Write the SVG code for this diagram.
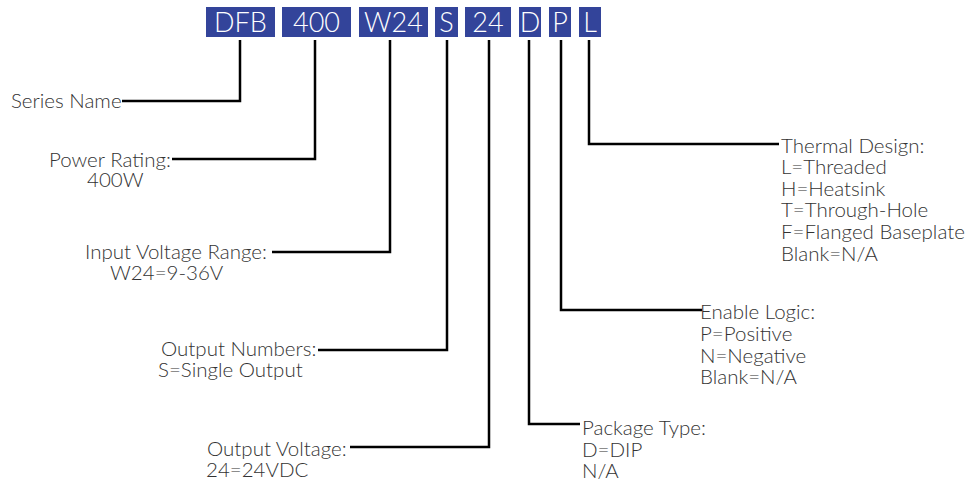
<svg xmlns="http://www.w3.org/2000/svg" width="971" height="481" viewBox="0 0 971 481">
<style>
.box{fill:#33449a}
.bt{fill:#ffffff;font-family:Lato,"Liberation Sans",sans-serif;font-weight:300;font-size:27px;text-anchor:middle}
.lb{fill:#333333;font-family:Lato,"Liberation Sans",sans-serif;font-weight:300;font-size:20.5px}
.ln{fill:none;stroke:#000000;stroke-width:2.5}
</style>
<rect width="971" height="481" fill="#ffffff"/>
<g id="code">
<g id="n-dfb"><rect class="box" x="206" y="7" width="69" height="30"/><text class="bt" x="240.5" y="32">DFB</text></g>
<g id="n-400"><rect class="box" x="282" y="7" width="69" height="30"/><text class="bt" x="316.5" y="32">400</text></g>
<g id="n-w24"><rect class="box" x="359" y="7" width="69" height="30"/><text class="bt" x="393.5" y="32">W24</text></g>
<g id="n-s"><rect class="box" x="435" y="7" width="23" height="30"/><text class="bt" x="446.5" y="32">S</text></g>
<g id="n-24"><rect class="box" x="465" y="7" width="46" height="30"/><text class="bt" x="488" y="32">24</text></g>
<g id="n-d"><rect class="box" x="519" y="7" width="22" height="30"/><text class="bt" x="530" y="32">D</text></g>
<g id="n-p"><rect class="box" x="549" y="7" width="22" height="30"/><text class="bt" x="560" y="32">P</text></g>
<g id="n-l"><rect class="box" x="579" y="7" width="22" height="30"/><text class="bt" x="590" y="32">L</text></g>
</g>
<g id="connectors">
<polyline class="ln" points="240,40 240,101 122,101"/>
<polyline class="ln" points="315,40 315,159 172,159"/>
<polyline class="ln" points="390,40 390,252 272,252"/>
<polyline class="ln" points="447,40 447,350 318,350"/>
<polyline class="ln" points="489,40 489,447 350,447"/>
<polyline class="ln" points="529,40 529,424 580,424"/>
<polyline class="ln" points="561,40 561,310 702,310"/>
<polyline class="ln" points="589,40 589,144 779,144"/>
</g>
<g id="l-series"><text class="lb" x="11" y="108">Series Name</text></g>
<g id="l-power"><text class="lb" x="49" y="167">Power Rating:</text><text class="lb" x="87" y="187">400W</text></g>
<g id="l-input"><text class="lb" x="85" y="259">Input Voltage Range:</text><text class="lb" x="110" y="280">W24=9-36V</text></g>
<g id="l-outnum"><text class="lb" x="161" y="356">Output Numbers:</text><text class="lb" x="158" y="377">S=Single Output</text></g>
<g id="l-outvolt"><text class="lb" x="207" y="456">Output Voltage:</text><text class="lb" x="206" y="477">24=24VDC</text></g>
<g id="l-package"><text class="lb" x="582" y="435">Package Type:</text><text class="lb" x="582" y="457">D=DIP</text><text class="lb" x="582" y="478">N/A</text></g>
<g id="l-enable"><text class="lb" x="700" y="319">Enable Logic:</text><text class="lb" x="700" y="341">P=Positive</text><text class="lb" x="700" y="363">N=Negative</text><text class="lb" x="700" y="384">Blank=N/A</text></g>
<g id="l-thermal"><text class="lb" x="781" y="153">Thermal Design:</text><text class="lb" x="781" y="174">L=Threaded</text><text class="lb" x="781" y="196">H=Heatsink</text><text class="lb" x="781" y="217">T=Through-Hole</text><text class="lb" x="781" y="239">F=Flanged Baseplate</text><text class="lb" x="781" y="261">Blank=N/A</text></g>
</svg>
